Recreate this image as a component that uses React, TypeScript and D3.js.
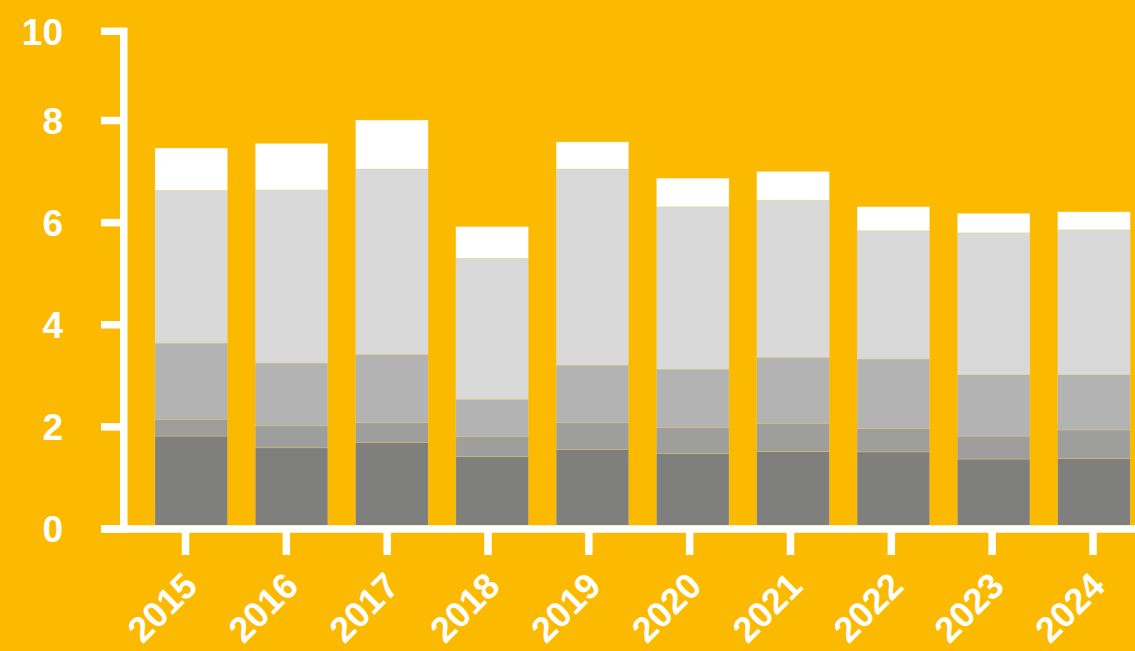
import React from "react";
import * as d3 from "d3";

const years = ["2015", "2016", "2017", "2018", "2019", "2020", "2021", "2022", "2023", "2024"];
// segment values (bottom to top)
const seriesA = [1.82, 1.59, 1.69, 1.42, 1.56, 1.48, 1.52, 1.51, 1.37, 1.38];
const seriesB = [0.33, 0.43, 0.39, 0.39, 0.52, 0.51, 0.55, 0.46, 0.45, 0.56];
const seriesC = [1.49, 1.23, 1.34, 0.73, 1.13, 1.14, 1.29, 1.36, 1.20, 1.08];
const seriesD = [2.99, 3.39, 3.63, 2.76, 3.84, 3.18, 3.08, 2.51, 2.78, 2.84];
const seriesE = [0.83, 0.91, 0.96, 0.62, 0.53, 0.56, 0.56, 0.47, 0.38, 0.35];
const yTicks = [0, 2, 4, 6, 8, 10];

const seriesList = [seriesA, seriesB, seriesC, seriesD, seriesE];
const colors = ["#7f7f7d", "#9e9e9c", "#b3b3b3", "#d9d9d9", "#ffffff"];

const W = 1135;
const H = 651;
const BG = "#fbba00";

export default function App() {
  const y = d3.scaleLinear().domain([0, 8, 10]).range([529, 120.5, 31.3]);
  const xBar = d3
    .scaleBand<string>()
    .domain(years)
    .range([141.1, 1144.1])
    .paddingInner(0.277)
    .paddingOuter(0.1385);
  const xTick = d3.scalePoint<string>().domain(years).range([185.5, 1093]);

  const rows = years.map((yr, i) => {
    const r: any = { year: yr };
    seriesList.forEach((s, k) => (r["s" + k] = s[i]));
    return r;
  });
  const stack = d3.stack<any>().keys(seriesList.map((_, k) => "s" + k));
  const layers = stack(rows);

  const axisW = 7.5;
  const font = "'Liberation Sans', Arial, sans-serif";

  return (
    <svg
      width={W}
      height={H}
      style={{ position: "absolute", left: 0, top: 0, display: "block" }}
    >
      <rect x={0} y={0} width={W} height={H} fill={BG} />
      {layers.map((layer, k) => (
        <g key={k} fill={colors[k]}>
          {layer.map((d, i) => {
            const x0 = xBar(years[i]) as number;
            const yTop = y(d[1]);
            const yBot = k === 0 ? 525.5 : y(d[0]);
            return (
              <rect
                key={i}
                x={x0}
                y={yTop}
                width={xBar.bandwidth()}
                height={yBot - yTop}
                stroke="#f2d37a"
                strokeWidth={0.5}
                strokeOpacity={0.6}
              />
            );
          })}
        </g>
      ))}
      {/* y axis */}
      <rect x={120} y={y(10) - axisW / 2} width={axisW} height={532.7 - (y(10) - axisW / 2)} fill="#fff" />
      {yTicks.map((t) => (
        <g key={t}>
          <rect x={101} y={y(t) - axisW / 2} width={21} height={axisW} fill="#fff" />
          <text
            x={63}
            y={y(t)}
            dy="0.36em"
            textAnchor="end"
            fill="#fff"
            fontFamily={font}
            fontWeight="bold"
            fontSize={37}
          >
            {t}
          </text>
        </g>
      ))}
      {/* x axis */}
      <rect x={101} y={y(0) - axisW / 2} width={W - 101} height={axisW} fill="#fff" />
      {years.map((yr) => {
        const cx = xTick(yr) as number;
        return (
          <g key={yr}>
            <rect x={cx - axisW / 2} y={y(0)} width={axisW} height={26} fill="#fff" />
            <text
              transform={`translate(${cx + 14},${588}) rotate(-45)`}
              textAnchor="end"
              fill="#fff"
              fontFamily={font}
              fontWeight="bold"
              fontSize={36}
            >
              {yr}
            </text>
          </g>
        );
      })}
    </svg>
  );
}
